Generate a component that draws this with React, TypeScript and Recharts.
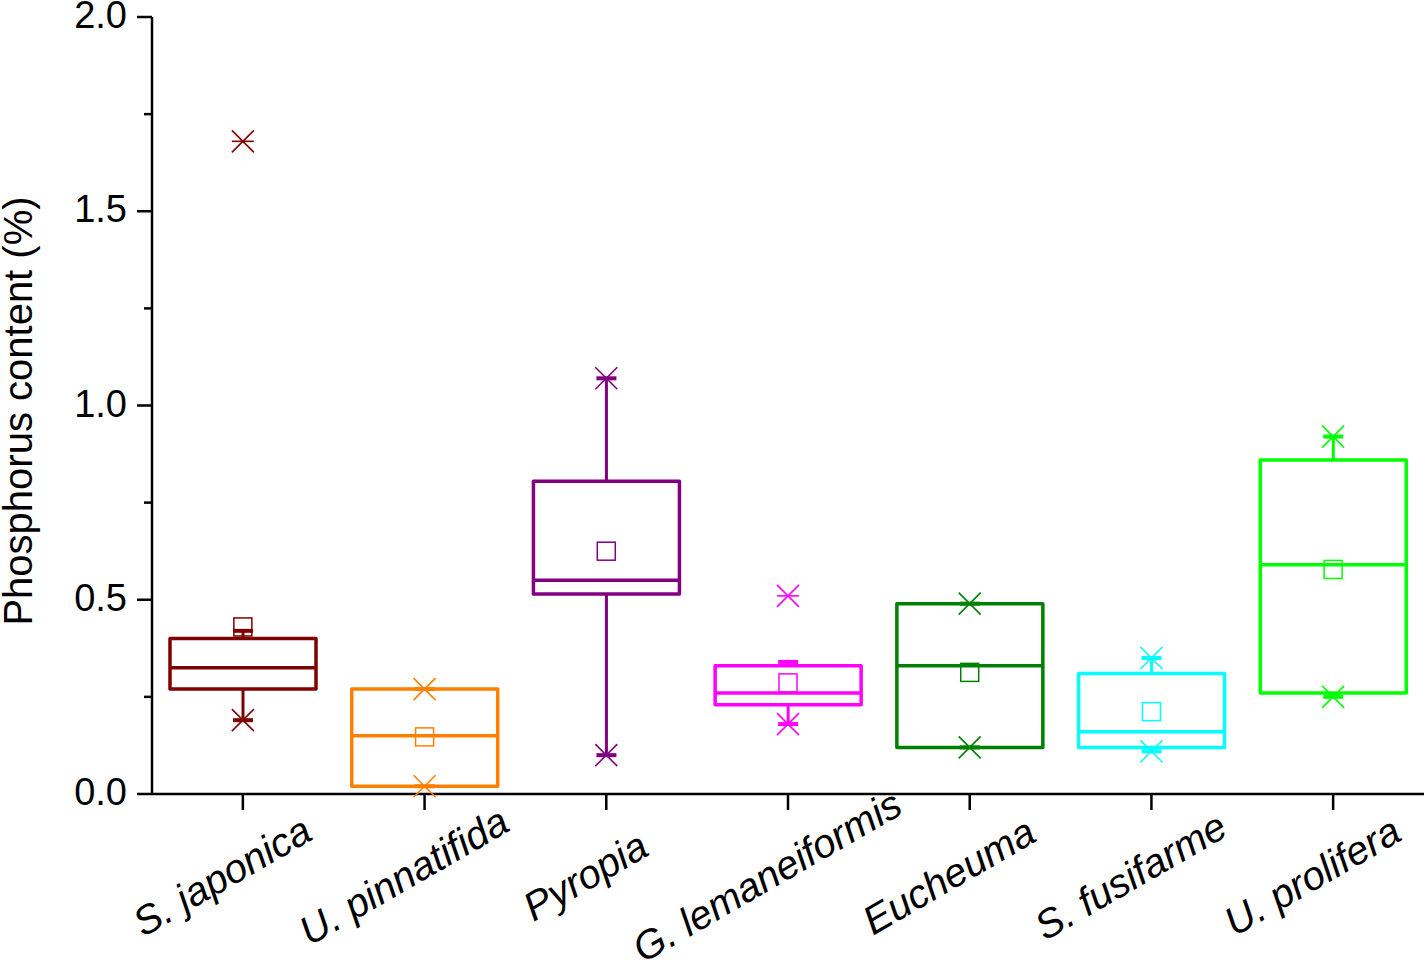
import { Bar, ComposedChart, Scatter, XAxis, YAxis } from "recharts";

const SPECIES = [
  "S. japonica",
  "U. pinnatifida",
  "Pyropia",
  "G. lemaneiformis",
  "Eucheuma",
  "S. fusifarme",
  "U. prolifera",
];
const COLORS = ["#800000", "#ff8000", "#800080", "#ff00ff", "#008000", "#00ffff", "#00ff00"];

// box statistics
const Q1 = [0.27, 0.02, 0.515, 0.23, 0.12, 0.12, 0.26];
const Q3 = [0.4, 0.27, 0.805, 0.33, 0.49, 0.31, 0.86];
const MEDIAN = [0.325, 0.15, 0.55, 0.26, 0.33, 0.16, 0.59];
const MEAN = [0.43, 0.147, 0.625, 0.286, 0.313, 0.212, 0.578];
const WHISKER_LO = [0.19, 0.02, 0.1, 0.18, 0.12, 0.11, 0.25];
const WHISKER_HI = [0.42, 0.27, 1.07, 0.34, 0.49, 0.35, 0.92];
// 1% / 99% markers (x) and max outliers (-)
const P1 = [0.19, 0.02, 0.1, 0.18, 0.12, 0.11, 0.25];
const P99 = [1.68, 0.27, 1.07, 0.51, 0.49, 0.35, 0.92];
const MAX_OUT = [1.68, null, null, 0.51, null, null, null];

const Y_MAJOR = [0, 0.5, 1, 1.5, 2];
const Y_MINOR = [0.25, 0.75, 1.25, 1.75];

const data = SPECIES.map((name, i) => ({
  name,
  range: [WHISKER_LO[i], WHISKER_HI[i]],
  q1: Q1[i],
  q3: Q3[i],
  median: MEDIAN[i],
  mean: MEAN[i],
  p1: P1[i],
  p99: P99[i],
  maxOut: MAX_OUT[i],
}));

const FONT = "'Liberation Sans', Arial, sans-serif";

function BoxShape(props: any) {
  const { x, y, width, height, payload, index } = props;
  const [lo, hi] = payload.range;
  const k = height / (hi - lo);
  const py = (v: number) => y + (hi - v) * k;
  const c = COLORS[index];
  const cx = x + width / 2;
  return (
    <g>
      <line x1={cx} x2={cx} y1={py(hi)} y2={py(payload.q3)} stroke={c} strokeWidth={3} />
      <line x1={cx} x2={cx} y1={py(payload.q1)} y2={py(lo)} stroke={c} strokeWidth={3} />
      <line x1={cx - 10} x2={cx + 10} y1={py(hi)} y2={py(hi)} stroke={c} strokeWidth={4} />
      <line x1={cx - 10} x2={cx + 10} y1={py(lo)} y2={py(lo)} stroke={c} strokeWidth={4} />
      <rect
        x={x}
        y={py(payload.q3)}
        width={width}
        height={py(payload.q1) - py(payload.q3)}
        fill="none"
        stroke={c}
        strokeWidth={3.5}
        strokeLinejoin="round"
      />
      <line x1={x} x2={x + width} y1={py(payload.median)} y2={py(payload.median)} stroke={c} strokeWidth={3.5} />
    </g>
  );
}

function MeanShape(props: any) {
  const { cx, cy, index } = props;
  if (!Number.isFinite(cy)) return <g />;
  return <rect x={cx - 9} y={cy - 9} width={18} height={18} fill="none" stroke={COLORS[index]} strokeWidth={1.5} />;
}

function CrossShape(props: any) {
  const { cx, cy, index } = props;
  if (!Number.isFinite(cy)) return <g />;
  const c = COLORS[index];
  return (
    <g stroke={c} strokeWidth={1.6}>
      <line x1={cx - 11} y1={cy - 11} x2={cx + 11} y2={cy + 11} />
      <line x1={cx - 11} y1={cy + 11} x2={cx + 11} y2={cy - 11} />
    </g>
  );
}

function DashShape(props: any) {
  const { cx, cy, index, payload } = props;
  if (payload.maxOut == null || !Number.isFinite(cy)) return <g />;
  return <line x1={cx - 11} x2={cx + 11} y1={cy} y2={cy} stroke={COLORS[index]} strokeWidth={1.6} />;
}

function YTick(props: any) {
  const { x, y, payload } = props;
  const v = payload.value;
  const major = Y_MAJOR.includes(v);
  return (
    <g>
      <line x1={x - (major ? 15 : 8)} x2={x} y1={y} y2={y} stroke="#000" strokeWidth={2.5} />
      {major && (
        <text x={x - 25} y={y} dy={11} textAnchor="end" fontSize={38} fontFamily={FONT} fill="#000">
          {v.toFixed(1)}
        </text>
      )}
    </g>
  );
}

function XTick(props: any) {
  const { x, y, payload } = props;
  return (
    <text
      transform={`translate(${x - 14},${y + 76}) rotate(-30)`}
      textAnchor="middle"
      fontSize={40}
      fontStyle="italic"
      fontFamily={FONT}
      fill="#000"
    >
      {payload.value}
    </text>
  );
}

export default function App() {
  return (
    <div style={{ position: "absolute", left: 0, top: 0 }}>
      <ComposedChart width={1425} height={973} data={data} margin={{ top: 17, right: 1, bottom: 0, left: 0 }}>
        <XAxis
          dataKey="name"
          type="category"
          height={179}
          interval={0}
          stroke="#000"
          axisLine={{ stroke: "#000", strokeWidth: 2.5 }}
          tickLine={{ stroke: "#000", strokeWidth: 2.5 }}
          tickSize={16}
          tick={<XTick />}
        />
        <YAxis
          type="number"
          domain={[0, 2]}
          ticks={[...Y_MAJOR, ...Y_MINOR].sort((a, b) => a - b)}
          width={152}
          axisLine={{ stroke: "#000", strokeWidth: 2.5 }}
          tickLine={false}
          tickSize={0}
          tickMargin={0}
          tick={<YTick />}
          label={() => (
            <text
              transform="translate(32,411) rotate(-90)"
              textAnchor="middle"
              fontSize={40}
              fontFamily={FONT}
              fill="#000"
            >
              Phosphorus content (%)
            </text>
          )}
        />
        <Bar dataKey="range" barSize={146} shape={<BoxShape />} isAnimationActive={false} />
        <Scatter dataKey="mean" shape={<MeanShape />} isAnimationActive={false} />
        <Scatter dataKey="p1" shape={<CrossShape />} isAnimationActive={false} />
        <Scatter dataKey="p99" shape={<CrossShape />} isAnimationActive={false} />
        <Scatter dataKey="maxOut" shape={<DashShape />} isAnimationActive={false} />
      </ComposedChart>
    </div>
  );
}
